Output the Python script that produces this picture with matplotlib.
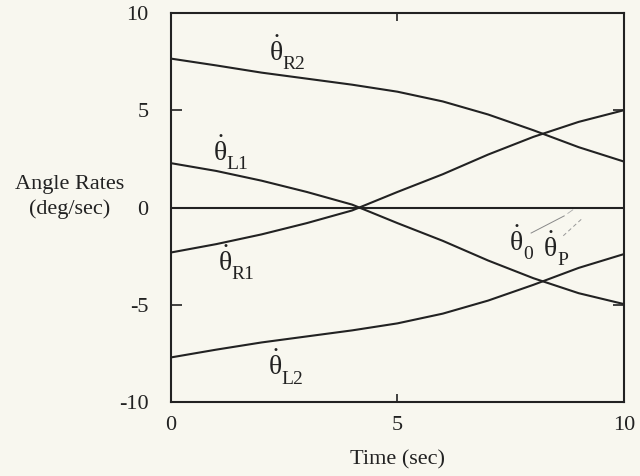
import matplotlib
matplotlib.use("Agg")
import matplotlib.pyplot as plt

plt.rcParams["font.family"] = ["Liberation Serif", "DejaVu Serif"]
plt.rcParams["mathtext.fontset"] = "custom"
plt.rcParams["mathtext.rm"] = "Liberation Serif"
plt.rcParams["mathtext.it"] = "Liberation Serif"
plt.rcParams["mathtext.bf"] = "Liberation Serif"
plt.rcParams["axes.unicode_minus"] = False

# Angle rate histories (deg/sec) sampled once per second
time_s = [0, 1, 2, 3, 4, 5, 6, 7, 8, 9, 10]
rate_R2 = [7.65, 7.30, 6.93, 6.62, 6.31, 5.95, 5.45, 4.78, 3.97, 3.10, 2.36]
rate_L1 = [2.28, 1.88, 1.38, 0.80, 0.15, -0.80, -1.71, -2.72, -3.63, -4.40, -4.96]
rate_R1 = [-2.31, -1.88, -1.38, -0.80, -0.15, 0.80, 1.71, 2.72, 3.63, 4.40, 5.00]
rate_L2 = [-7.70, -7.30, -6.93, -6.62, -6.31, -5.95, -5.45, -4.78, -3.97, -3.10, -2.39]
rate_0 = [0.0] * len(time_s)

x_ticks = [0, 5, 10]
y_ticks = [-10, -5, 0, 5, 10]

bg = "#f8f7ef"
ink = "#222222"

fig = plt.figure(figsize=(6.4, 4.76), dpi=100, facecolor=bg)
ax = fig.add_axes([0.267, 0.155, 0.708, 0.818], facecolor=bg)

for series in (rate_R2, rate_L1, rate_R1, rate_L2, rate_0):
    ax.plot(time_s, series, color=ink, lw=1.5, solid_joinstyle="miter")

# leader lines from the theta_0 / theta_P labels
ax.plot([7.95, 8.68], [-1.31, -0.43], color="#888888", lw=0.7)
ax.plot([8.76, 8.87], [-0.30, -0.12], color="#aaaaaa", lw=0.6)
ax.plot([8.66, 9.06], [-1.45, -0.60], color="#999999", lw=0.7, ls=(0, (4, 3)))

ax.set_xlim(0, 10)
ax.set_ylim(-10, 10)
ax.set_xticks(x_ticks)
ax.set_yticks(y_ticks)
ax.tick_params(axis="both", labelsize=16, colors=ink, width=1.2)
ax.tick_params(axis="y", direction="in", length=8, pad=16, left=True, right=True)
ax.tick_params(axis="x", direction="in", length=6, pad=10, top=True, bottom=True)
for s in ax.spines.values():
    s.set_linewidth(1.5)
    s.set_color(ink)


def rate_label(x, y, sub):
    """Dotted theta at (x, y) baseline with a dropped subscript."""
    ax.text(x, y, r"$\dot{\theta}$", fontsize=20, color=ink,
            ha="left", va="baseline")
    ax.annotate(sub, (x, y), xytext=(9.8, -6.0), textcoords="offset points",
                fontsize=14, color=ink, ha="left", va="baseline")


rate_label(2.17, 7.53, "R2")
rate_label(0.93, 2.41, "L1")
rate_label(1.04, -3.25, "R1")
rate_label(2.14, -8.62, "L2")
rate_label(7.47, -2.22, "0")
rate_label(8.22, -2.53, "P")

fig.text(398 / 640, 1 - 460 / 476, "Time (sec)", fontsize=16, color=ink,
         ha="center", va="center")
fig.text(70 / 640, 1 - 197 / 476, "Angle Rates\n(deg/sec)", fontsize=16,
         color=ink, ha="center", va="center", linespacing=1.4)

fig.savefig("out.png", dpi=100, facecolor=bg)
